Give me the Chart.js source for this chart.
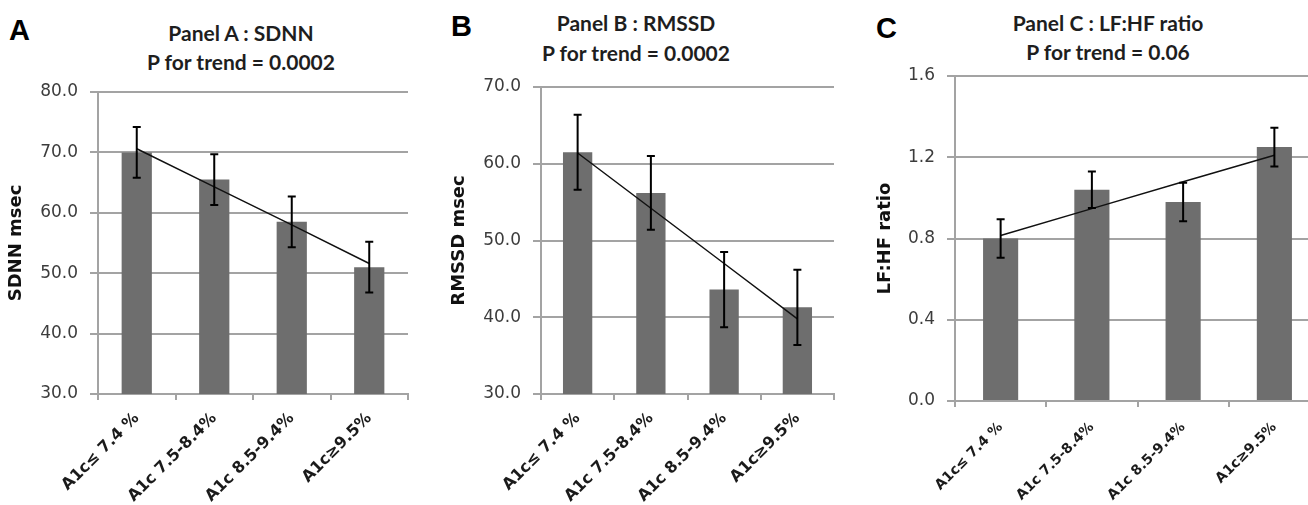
<!DOCTYPE html>
<html>
<head>
<meta charset="utf-8">
<script src="https://cdn.jsdelivr.net/npm/chart.js@4"></script>
<style>
  html, body { margin: 0; padding: 0; background: #fff; overflow: hidden; }
  body { width: 1308px; height: 505px; position: relative; }
  canvas { position: absolute; top: 0; }
  .letter { position: absolute; font: bold 29px "Liberation Sans", Arial, sans-serif; line-height: 29px; color: #000; }
  .title { position: absolute; width: 320px; text-align: center; font: bold 21px Lato, "Open Sans", sans-serif; color: #1e1e1e; }
</style>
</head>
<body>
<div class="letter" style="left:9px; top:16px;">A</div>
<div class="letter" style="left:451px; top:12px;">B</div>
<div class="letter" style="left:876px; top:14px;">C</div>
<div class="title" style="left:81px; top:18px; line-height:29px;">Panel A : SDNN<br>P for trend = 0.0002</div>
<div class="title" style="left:476px; top:8px; line-height:30px;">Panel B : RMSSD<br>P for trend = 0.0002</div>
<div class="title" style="left:948px; top:8px; line-height:29px;">Panel C : LF:HF ratio<br>P for trend = 0.06</div>

<canvas id="panelA" width="436" height="505" style="left:0px"></canvas>
<canvas id="panelB" width="436" height="505" style="left:436px"></canvas>
<canvas id="panelC" width="460" height="505" style="left:872px"></canvas>

<script>
var categories = ['A1c\u2264 7.4 %', 'A1c 7.5-8.4%', 'A1c 8.5-9.4%', 'A1c\u22659.5%'];

var sdnnMean = [70.0, 65.5, 58.5, 51.0];
var sdnnErr = [4.2, 4.2, 4.2, 4.2];
var sdnnTrend = [70.6, 64.3, 58.0, 51.6];

var rmssdMean = [61.5, 56.2, 43.6, 41.3];
var rmssdErr = [4.9, 4.8, 4.9, 4.9];
var rmssdTrend = [61.4, 54.2, 47.0, 39.8];

var lfhfMean = [0.80, 1.04, 0.98, 1.25];
var lfhfErr = [0.095, 0.09, 0.095, 0.095];
var lfhfTrend = [0.815, 0.947, 1.079, 1.21];

var gridGray = '#a3a3a3';

// draws the +/- error bars of the bar dataset
var errorBars = {
  id: 'errorBars',
  afterDatasetsDraw: function (chart) {
    var ctx = chart.ctx;
    var y = chart.scales.y;
    chart.data.datasets.forEach(function (ds, di) {
      if (!ds.errors) return;
      var meta = chart.getDatasetMeta(di);
      ctx.save();
      ctx.strokeStyle = '#000';
      ctx.lineWidth = 2;
      meta.data.forEach(function (bar, i) {
        var top = y.getPixelForValue(ds.data[i] + ds.errors[i]);
        var bot = y.getPixelForValue(ds.data[i] - ds.errors[i]);
        ctx.beginPath();
        ctx.moveTo(bar.x, top); ctx.lineTo(bar.x, bot);
        ctx.moveTo(bar.x - 4, top); ctx.lineTo(bar.x + 4, top);
        ctx.moveTo(bar.x - 4, bot); ctx.lineTo(bar.x + 4, bot);
        ctx.stroke();
      });
      ctx.restore();
    });
  }
};

function makePanel(id, mean, err, trend, yTitle, yMin, yMax, step, pad, yWidth, xHeight, titlePad, barPct, xFont, xPad) {
  var config = {
    type: 'bar',
    data: {
      labels: categories,
      datasets: [{
        type: 'line',
        data: trend,
        borderColor: '#111',
        borderWidth: 1.5,
        pointRadius: 0,
        fill: false,
        order: 0
      }, {
        data: mean,
        errors: err,
        backgroundColor: '#6e6e6e',
        barPercentage: barPct,
        categoryPercentage: 1,
        order: 1
      }]
    },
    options: {
      responsive: false,
      animation: false,
      devicePixelRatio: 1,
      layout: { padding: pad },
      plugins: { legend: { display: false }, tooltip: { enabled: false } },
      scales: {
        x: {
          grid: { drawOnChartArea: false, drawTicks: true, tickLength: 6, color: gridGray, lineWidth: 2 },
          border: { color: gridGray, width: 2 },
          ticks: {
            autoSkip: false,
            minRotation: 45,
            maxRotation: 45,
            padding: xPad,
            color: '#1a1a1a',
            font: { family: 'DejaVu Sans', size: xFont, weight: 'bold' }
          },
          afterFit: function (s) { s.height = xHeight; }
        },
        y: {
          min: yMin,
          max: yMax,
          grid: { color: gridGray, lineWidth: 2, tickLength: 8 },
          border: { color: gridGray, width: 2 },
          ticks: {
            stepSize: step,
            padding: 12,
            color: '#3c3c3c',
            font: { family: 'DejaVu Sans', size: 17 },
            callback: function (v) { return v.toFixed(1); }
          },
          title: {
            display: true,
            text: yTitle,
            color: '#111',
            padding: { top: titlePad, bottom: 0 },
            font: { family: 'DejaVu Sans', size: 18, weight: 'bold' }
          },
          afterFit: function (s) { s.width = yWidth; }
        }
      }
    },
    plugins: [errorBars]
  };
  return new Chart(document.getElementById(id), config);
}

makePanel('panelA', sdnnMean, sdnnErr, sdnnTrend, 'SDNN msec', 30, 80, 10,
  { left: 0, right: 28, top: 92, bottom: 0 }, 98, 111, 6, 0.39, 16, 9);
makePanel('panelB', rmssdMean, rmssdErr, rmssdTrend, 'RMSSD msec', 30, 70, 10,
  { left: 0, right: 38, top: 87, bottom: 0 }, 105, 111, 12.5, 0.4, 16, 9);
makePanel('panelC', lfhfMean, lfhfErr, lfhfTrend, 'LF:HF ratio', 0, 1.6, 0.4,
  { left: 0, right: 12, top: 76, bottom: 0 }, 83, 104, 2.5, 0.385, 14, 12);
</script>
</body>
</html>
